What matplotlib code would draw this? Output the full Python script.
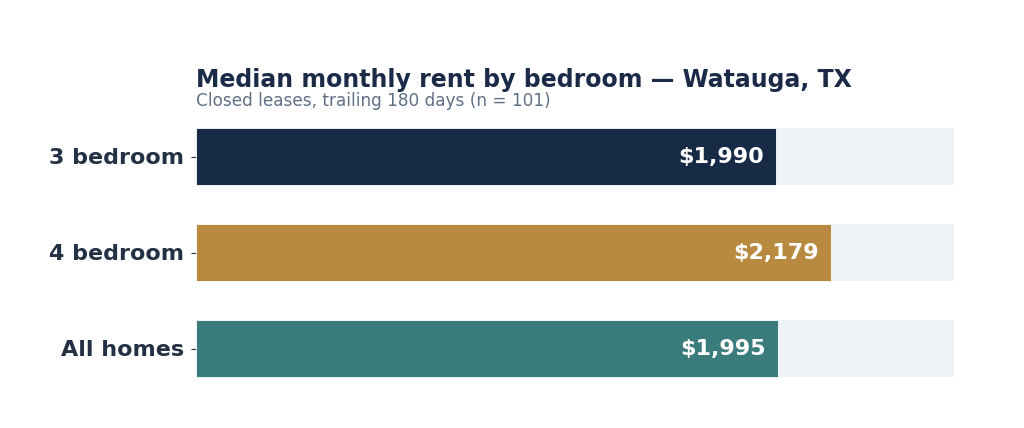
import matplotlib
matplotlib.use("Agg")
import matplotlib.pyplot as plt

plt.rcParams["font.family"] = ["DejaVu Sans"]

categories = ["3 bedroom", "4 bedroom", "All homes"]
rents = [1990, 2179, 1995]
value_labels = ["$1,990", "$2,179", "$1,995"]
bar_colors = ["#172a46", "#b78a40", "#3a7b7b"]
track_max = 2600

fig = plt.figure(figsize=(10.24, 4.28), dpi=100)
ax = fig.add_axes([196 / 1024, 1 - 396.5 / 428, (954 - 196) / 1024, 288 / 428])

pos = list(range(len(categories)))
ax.barh(pos, [track_max] * len(pos), height=0.6, color="#eef3f8", zorder=1)
ax.barh(pos, rents, height=0.6, color=bar_colors, edgecolor="#ffffff",
        linewidth=0.6, zorder=2)

for p, r, lab in zip(pos, rents, value_labels):
    ax.text(r - 12 * track_max / 758, p, lab, ha="right", va="center",
            color="white", fontsize=16, fontweight="bold", zorder=3)

ax.set_xlim(0, track_max)
ax.set_ylim(2.5, -0.5)
ax.set_yticks(pos)
ax.set_yticklabels(categories, fontsize=16, fontweight="bold", color="#243044")
ax.tick_params(axis="y", length=3.5, color="#243044", pad=5)
ax.set_xticks([])
for s in ax.spines.values():
    s.set_visible(False)

fig.text(196 / 1024, 1 - 80 / 428, "Median monthly rent by bedroom — Watauga, TX",
         ha="left", va="center", fontsize=17, fontweight="bold", color="#1b2a47")
fig.text(196 / 1024, 1 - 101 / 428, "Closed leases, trailing 180 days (n = 101)",
         ha="left", va="center", fontsize=12.2, color="#5f6f86")

fig.savefig("out.png", dpi=100, facecolor="white")
